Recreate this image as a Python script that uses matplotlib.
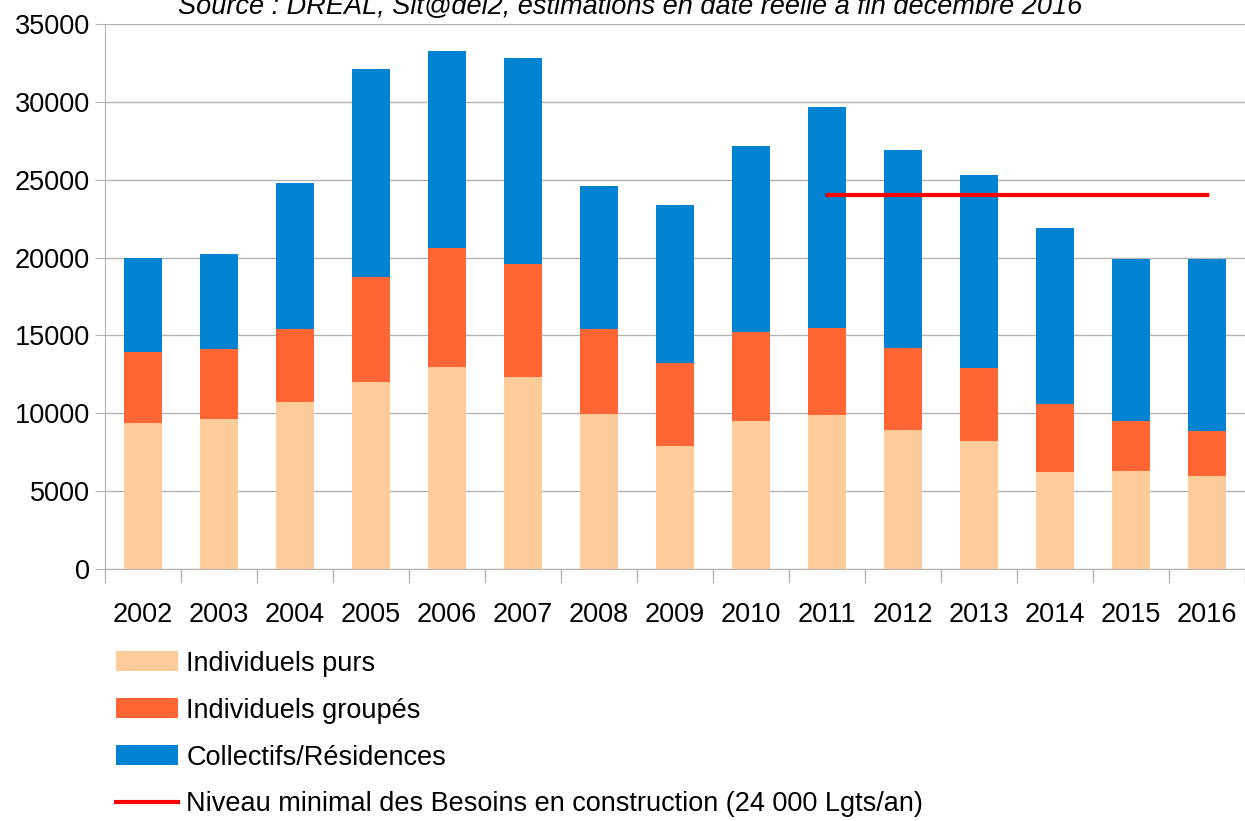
import matplotlib
matplotlib.use("Agg")
import matplotlib.pyplot as plt
from matplotlib import font_manager
import numpy as np

years = ["2002", "2003", "2004", "2005", "2006", "2007", "2008", "2009",
         "2010", "2011", "2012", "2013", "2014", "2015", "2016"]
indiv_purs = [9400, 9650, 10750, 12000, 12950, 12300, 9950, 7900,
              9500, 9900, 8950, 8200, 6250, 6300, 6000]
indiv_groupes = [4550, 4450, 4650, 6750, 7650, 7300, 5450, 5300,
                 5700, 5550, 5250, 4700, 4350, 3200, 2850]
collectifs = [6050, 6100, 9400, 13350, 12650, 13200, 9200, 10200,
              11950, 14200, 12700, 12400, 11300, 10400, 11050]
besoin_years = ["2011", "2012", "2013", "2014", "2015", "2016"]
besoin = [24000] * 6

names = {f.name for f in font_manager.fontManager.ttflist}
family = "Liberation Sans Narrow" if "Liberation Sans Narrow" in names else "Liberation Sans"
plt.rcParams["font.family"] = [family, "DejaVu Sans"]
FS = 19.5

fig = plt.figure(figsize=(12.45, 8.21), dpi=100)
ax = fig.add_axes([105 / 1245, 1 - 569 / 821, 1 - 105 / 1245, (569 - 24) / 821])

x = np.arange(len(years))
w = 0.5
p1 = ax.bar(x, indiv_purs, w, color="#FFCC99", label="Individuels purs", zorder=2)
bottom2 = np.array(indiv_purs)
p2 = ax.bar(x, indiv_groupes, w, bottom=bottom2, color="#FF6633",
            label="Individuels groupés", zorder=2)
bottom3 = bottom2 + np.array(indiv_groupes)
p3 = ax.bar(x, collectifs, w, bottom=bottom3, color="#0084D1",
            label="Collectifs/Résidences", zorder=2)
bx = [years.index(y) for y in besoin_years]
l1, = ax.plot(bx, besoin, color="#FF0000", lw=3,
              label="Niveau minimal des Besoins en construction (24 000 Lgts/an)", zorder=3)

ax.set_xlim(-0.5, len(years) - 0.5)
ax.set_ylim(0, 35000)
ax.set_yticks(np.arange(0, 35001, 5000))
ax.tick_params(axis="y", labelsize=FS, length=7, color="#b3b3b3", pad=4)
ax.set_xticks(x)
ax.set_xticklabels(years)
ax.tick_params(axis="x", which="major", length=0, labelsize=FS, pad=24)
ax.set_xticks(np.arange(-0.5, len(years), 1), minor=True)
ax.tick_params(axis="x", which="minor", length=10, color="#b3b3b3", width=1)
ax.grid(axis="y", color="#b3b3b3", lw=1, zorder=0)
for s in ("top", "right"):
    ax.spines[s].set_visible(False)
for s in ("left", "bottom"):
    ax.spines[s].set_color("#b3b3b3")

fig.text(630 / 1245, 1 - 14 / 821,
         "Source : DREAL, Sit@del2, estimations en date réelle à fin décembre 2016",
         ha="center", va="baseline", fontsize=FS, style="italic")

fig.legend(handles=[p1, p2, p3, l1], loc="upper left",
           bbox_to_anchor=(105 / 1245, 1 - 640 / 821), frameon=False,
           fontsize=FS, handlelength=2.3, handleheight=0.75,
           labelspacing=0.77, handletextpad=0.3, borderaxespad=0)

fig.savefig("out.png", dpi=100)
